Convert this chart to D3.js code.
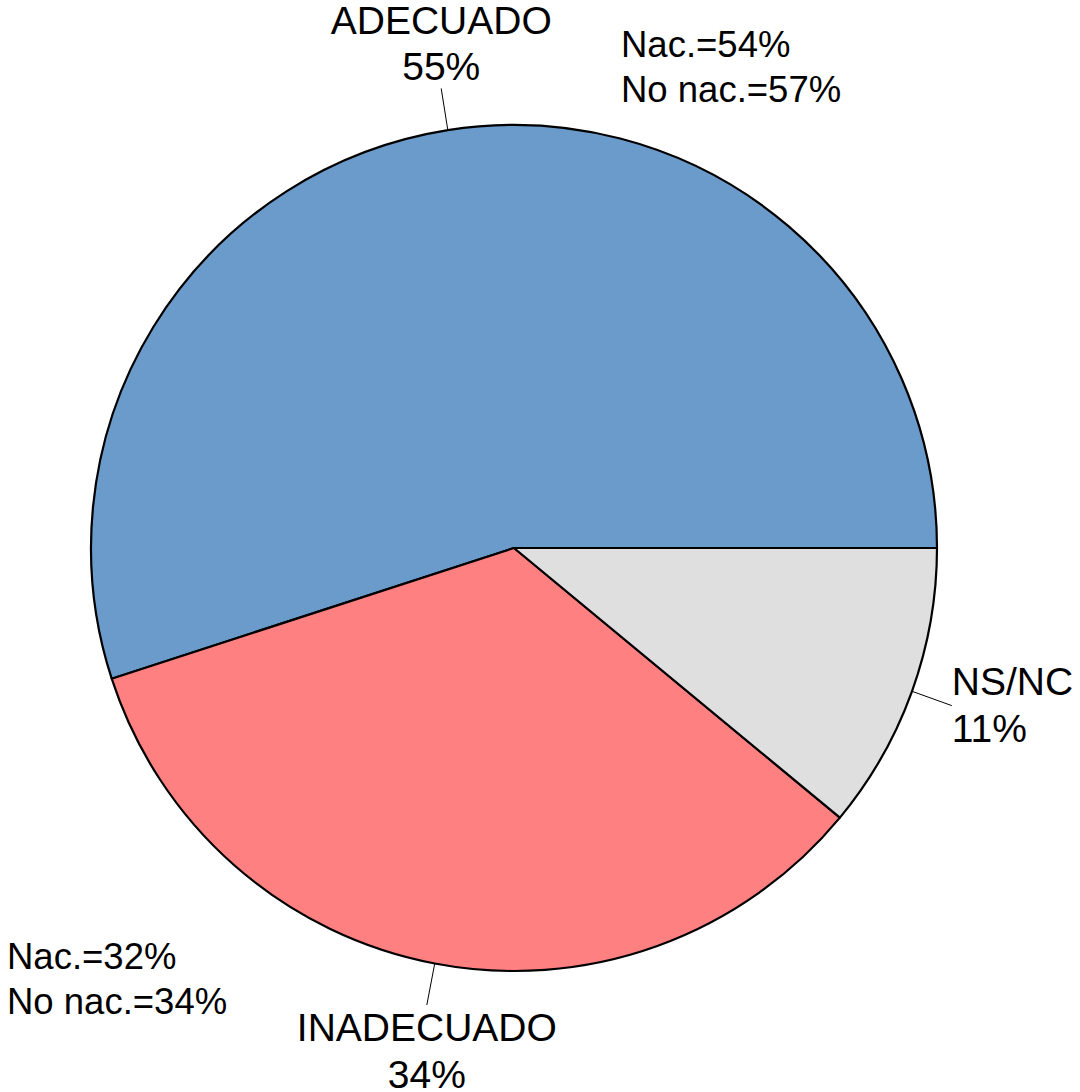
<!DOCTYPE html>
<html lang="es">
<head>
  <meta charset="UTF-8">
  <title>Pie chart</title>
  <script src="https://d3js.org/d3.v7.min.js"></script>
  <style>
    body { margin: 0; background: #fff; }
    svg text { font-family: "Liberation Sans", Arial, sans-serif; fill: #000; }
  </style>
</head>
<body>
<div id="chart"></div>
<script>
// data
const categories = ["ADECUADO", "INADECUADO", "NS/NC"];
const values = [55, 34, 11];
const colors = ["#6A9BCB", "#FF8080", "#DFDFDF"];

// extra notes (national / not national)
const noteTopRight = ["Nac.=54%", "No nac.=57%"];
const noteBottomLeft = ["Nac.=32%", "No nac.=34%"];

const width = 1080, height = 1092;
const cx = 514, cy = 548, radius = 423;

const svg = d3.select("#chart").append("svg")
  .attr("width", width)
  .attr("height", height);

const g = svg.append("g").attr("transform", `translate(${cx},${cy})`);

// counter-clockwise from 3 o'clock, like R's pie()
const pie = d3.pie()
  .sort(null)
  .value(d => d.value)
  .startAngle(Math.PI / 2)
  .endAngle(Math.PI / 2 - 2 * Math.PI);

const data = categories.map((c, i) => ({ name: c, value: values[i], color: colors[i] }));
const arcs = pie(data);

const arc = d3.arc().innerRadius(0).outerRadius(radius);

g.selectAll("path.slice")
  .data(arcs)
  .enter().append("path")
  .attr("class", "slice")
  .attr("d", arc)
  .attr("fill", d => d.data.color)
  .attr("stroke", "#000")
  .attr("stroke-width", 2.2)
  .attr("stroke-linejoin", "round");

// labels with tick lines
const fontSize = 39, lineH = 46.5;
arcs.forEach(d => {
  const a = (d.startAngle + d.endAngle) / 2;
  const sx = Math.sin(a), sy = -Math.cos(a);
  g.append("line")
    .attr("x1", radius * sx).attr("y1", radius * sy)
    .attr("x2", 1.1 * radius * sx).attr("y2", 1.1 * radius * sy)
    .attr("stroke", "#000").attr("stroke-width", 1);

  const px = 1.1 * radius * sx, py = 1.1 * radius * sy;
  const lines = [d.data.name, d.data.value + "%"];
  let anchor, firstBaseline;
  const asc = fontSize * 0.72;
  if (Math.abs(sx) < 0.5) {
    anchor = "middle";
    if (sy < 0) firstBaseline = py - 8 - lineH;        // text above the tick
    else firstBaseline = py + 8 + asc;                 // text below the tick
  } else {
    anchor = sx > 0 ? "start" : "end";
    const blockH = lineH + asc;
    firstBaseline = py - blockH / 2 + asc - 1;
  }
  const t = g.append("text")
    .attr("text-anchor", anchor)
    .style("font-size", fontSize + "px");
  lines.forEach((s, i) => {
    t.append("tspan")
      .attr("x", px)
      .attr("y", firstBaseline + i * lineH)
      .text(s);
  });
});

// notes
function note(lines, x, y0) {
  const t = svg.append("text").style("font-size", "36.5px");
  lines.forEach((s, i) => {
    t.append("tspan").attr("x", x).attr("y", y0 + i * 45).text(s);
  });
}
note(noteTopRight, 621, 57);
note(noteBottomLeft, 7, 969);
</script>
</body>
</html>
